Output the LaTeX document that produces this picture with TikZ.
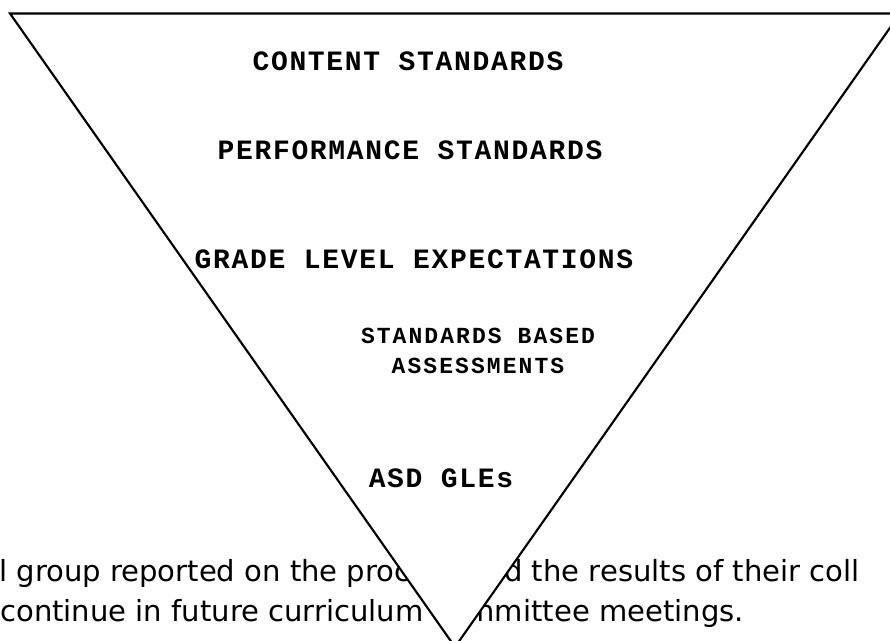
\documentclass[tikz,border=0pt]{standalone}
\usepackage{fontspec}
\setmainfont{DejaVu Sans}
\newfontfamily\capsfont{Liberation Mono}[LetterSpace=6]
\newfontfamily\smallcapsfont{Liberation Mono}[LetterSpace=9]
\usetikzlibrary{calc}

\tikzset{
	level/.style={font=\capsfont\bfseries\fontsize{21pt}{24pt}\selectfont, inner sep=0pt, anchor=base},
	sublevel/.style={font=\smallcapsfont\bfseries\fontsize{17.25pt}{22.5pt}\selectfont, inner sep=0pt, anchor=base, align=center},
	bodyline/.style={font=\fontsize{21.8pt}{30pt}\selectfont, inner sep=0pt, anchor=base west},
	funnel/.style={draw=black, fill=white, line width=1.6pt, line join=miter}
}

\begin{document}
\begin{tikzpicture}[x=0.75pt, y=-0.75pt]
	
	\useasboundingbox (0,0) rectangle (890,640);
	\clip (0,0) rectangle (890,640);
	
	%========================
	% running text behind the funnel
	%========================
	\node[bodyline] (line1) at (-1,581) {l group reported on the process and the results of their coll};
	\node[bodyline] (line2) at (0,621) {continue in future curriculum committee meetings.};
	
	%========================
	% inverted triangle
	%========================
	\coordinate (tl) at (10,13.5);
	\coordinate (tr) at (900,13.5);
	\coordinate (apex) at (455,647);
	\filldraw[funnel] (tl) -- (tr) -- (apex) -- cycle;
	
	%========================
	% levels
	%========================
	\node[level] (content) at (408,70.5) {CONTENT STANDARDS};
	\node[level] (performance) at (410,159) {PERFORMANCE STANDARDS};
	\node[level] (gle) at (414,268) {GRADE LEVEL EXPECTATIONS};
	\node[sublevel] (sba) at (478,373) {STANDARDS BASED\\ASSESSMENTS};
	\node[level] (asd) at (441,487) {ASD GLEs};
	
\end{tikzpicture}
\end{document}
